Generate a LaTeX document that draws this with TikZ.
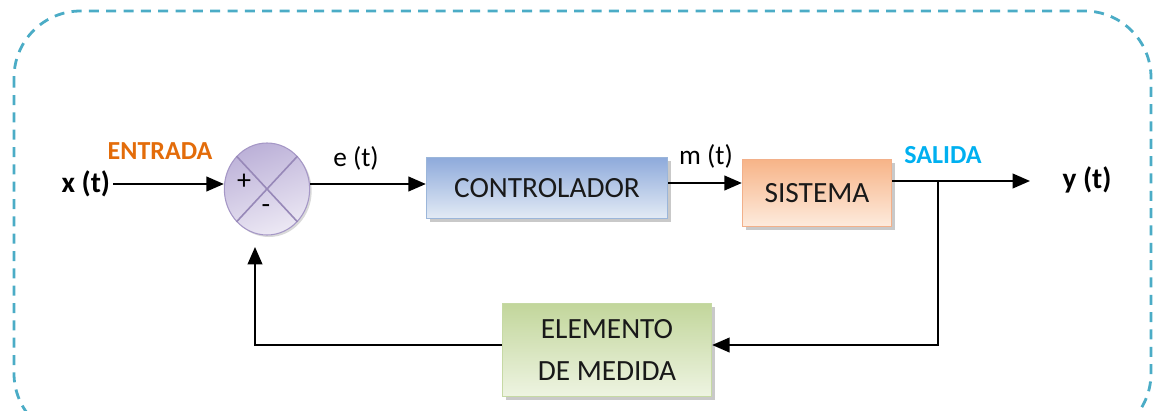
\documentclass[tikz,border=0pt]{standalone}
\usepackage{fontspec}
\setmainfont{Carlito}
\usetikzlibrary{arrows.meta,shadows,shapes.geometric}
\definecolor{frameblue}{HTML}{4BACC6}
\definecolor{entradaorange}{HTML}{E36C0A}
\definecolor{salidacyan}{HTML}{00B0F0}
\definecolor{sumtop}{HTML}{BCB1D8}
\definecolor{sumbot}{HTML}{ECE8F4}
\definecolor{sumedge}{HTML}{A597C6}
\definecolor{sumcross}{HTML}{9788B8}
\definecolor{ctrldark}{HTML}{8EAADB}
\definecolor{ctrllight}{HTML}{E3EBF5}
\definecolor{ctrledge}{HTML}{9BB6DA}
\definecolor{plantdark}{HTML}{F7B488}
\definecolor{plantlight}{HTML}{FDEBDD}
\definecolor{plantedge}{HTML}{F2B08A}
\definecolor{measdark}{HTML}{C2D69B}
\definecolor{measlight}{HTML}{EEF4E2}
\definecolor{measedge}{HTML}{C6D9A4}
\tikzset{
  px/.style={x=0.75pt,y=-0.75pt},
  blockbox/.style={line width=0.8pt, align=center,
    font=\fontsize{22}{26}\selectfont, text=black!90,
    drop shadow={shadow xshift=2.5pt, shadow yshift=-2.5pt, fill=black!30, opacity=0.7}},
  sig/.style={line width=1.3pt, -{Triangle[length=13pt,width=11pt]}},
  lbl/.style={font=\fontsize{20.5}{24}\selectfont},
  io/.style={font=\bfseries\fontsize{22}{26}\selectfont},
  tag/.style={font=\bfseries\fontsize{19.5}{23}\selectfont},
}
\begin{document}
\begin{tikzpicture}[px]
\useasboundingbox (0,0) rectangle (1155,410);
% dashed frame, cut at the lower edge
\begin{scope}
  \clip (0,0) rectangle (1155,410);
  \draw[frameblue, line width=2.1pt, dash pattern=on 7.5pt off 5.5pt, rounded corners=50pt]
    (14,11) rectangle (1151,440);
\end{scope}

% summing junction
\node[ellipse, minimum width=64pt, minimum height=69pt, inner sep=0pt, draw=sumedge,
  line width=0.8pt, top color=sumtop, bottom color=sumbot, shading angle=20,
  drop shadow={shadow xshift=1.5pt, shadow yshift=-1.5pt, fill=black!25, opacity=0.6}]
  (sum) at (267,189) {};
\draw[sumcross, line width=1.2pt] (sum.north west) -- (sum.south east)
  (sum.north east) -- (sum.south west);
\node[font=\fontsize{21}{22}\selectfont] (plus) at (244,182) {+};
\node[font=\fontsize{21}{22}\selectfont] (minus) at (266,209) {-};

% blocks
\node[blockbox, draw=ctrledge, minimum width=181pt, minimum height=46pt,
  shading angle=-60, top color=ctrldark, bottom color=ctrllight] (ctrl) at (547,188) {CONTROLADOR};
\node[blockbox, draw=plantedge, minimum width=112pt, minimum height=50pt,
  shading angle=-50, top color=plantdark, bottom color=plantlight] (plant) at (817,193) {SISTEMA};
\node[blockbox, draw=measedge, minimum width=157pt, minimum height=70pt,
  shading angle=-30, top color=measdark, bottom color=measlight,
  font=\fontsize{22}{31}\selectfont] (meas) at (607,350) {ELEMENTO\\DE MEDIDA};

% labels
\node[io, anchor=east, inner xsep=2pt] (x) at (113,184) {x (t)};
\node[io] (y) at (1087,180) {y (t)};
\node[tag, text=entradaorange] (entrada) at (160,151) {ENTRADA};
\node[tag, text=salidacyan] (salida) at (943,155) {SALIDA};
\node[lbl] (e) at (356,158) {e (t)};
\node[lbl] (m) at (706,156) {m (t)};

% signal paths
\draw[sig] (x.east) -- (x.east -| sum.west);
\draw[sig] (sum.east |- 0,184) -- (ctrl.west |- 0,184);
\draw[sig] (ctrl.east |- 0,183) -- (plant.west |- 0,183);
\coordinate (branch) at (938,181);
\coordinate (yend) at (1030,181);
\draw[sig] (plant.east |- branch) -- (yend);
\draw[sig] (branch) -- (938,345) -- (meas.east |- 0,345);
\coordinate (fbtip) at (255,247);
\draw[sig] (meas.west |- 0,345) -- (255,345) -- (fbtip);
\end{tikzpicture}
\end{document}
